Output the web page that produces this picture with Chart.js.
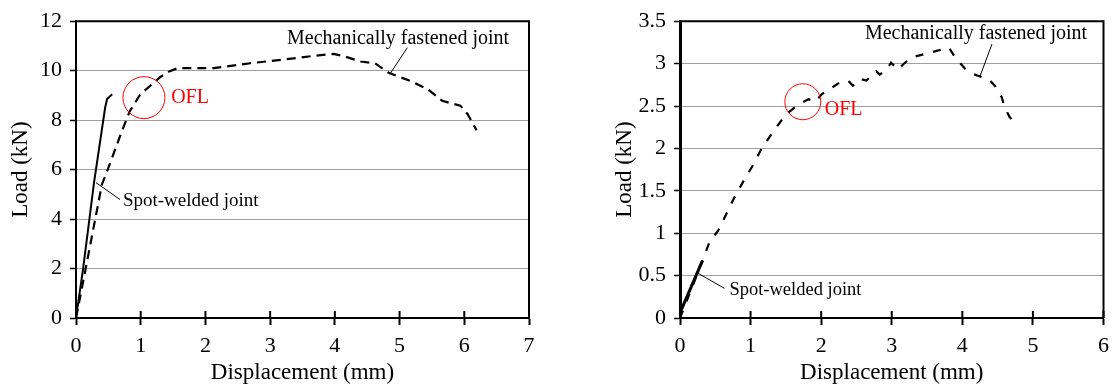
<!DOCTYPE html>
<html>
<head>
<meta charset="utf-8">
<script src="https://cdn.jsdelivr.net/npm/chart.js@4.4.1/dist/chart.umd.min.js"></script>
<style>
  html, body { margin: 0; padding: 0; background: #fff; }
  .box { position: absolute; top: 0; height: 387px; }
  #boxA { left: 0; width: 560px; }
  #boxB { left: 560px; width: 557px; }
</style>
</head>
<body>
<div class="box" id="boxA"><canvas id="chartA" width="560" height="387"></canvas></div>
<div class="box" id="boxB"><canvas id="chartB" width="557" height="387"></canvas></div>
<script>
// ---- data ----
// left panel
const spotDispA = [0, 0.11, 0.28, 0.45, 0.48, 0.56];
const spotLoadA = [0, 2.0, 5.5, 8.5, 8.85, 9.05];
const mechDispA = [0, 0.15, 0.40, 0.49, 0.71, 0.83, 0.99, 1.30, 1.45, 1.57, 1.91, 2.13, 2.69, 3.24, 3.68, 3.98, 4.12, 4.40, 4.62, 4.84, 5.17, 5.44, 5.66, 5.94, 6.05, 6.19];
const mechLoadA = [0, 2.0, 5.4, 6.0, 7.56, 8.36, 9.03, 9.74, 9.98, 10.1, 10.1, 10.1, 10.3, 10.46, 10.6, 10.68, 10.6, 10.37, 10.3, 9.9, 9.58, 9.24, 8.78, 8.58, 8.25, 7.59];
const yTicksA = [0, 2, 4, 6, 8, 10, 12];
const xTicksA = [0, 1, 2, 3, 4, 5, 6, 7];

// right panel
const spotDispB = [0, 0.16, 0.32];
const spotLoadB = [0.06, 0.37, 0.68];
const mechDispB = [0, 0.32, 0.42, 0.54, 0.77, 0.91, 1.04, 1.15, 1.33, 1.50, 1.68, 1.82, 1.92, 2.01, 2.27, 2.38, 2.45, 2.55, 2.64, 2.78, 2.83, 2.93, 2.99, 3.09, 3.16, 3.27, 3.55, 3.81, 3.90, 4.07, 4.21, 4.28, 4.37, 4.46, 4.56, 4.60, 4.67, 4.74];
const mechLoadB = [0, 0.68, 0.90, 1.03, 1.42, 1.63, 1.81, 1.99, 2.21, 2.40, 2.52, 2.58, 2.55, 2.64, 2.78, 2.80, 2.74, 2.82, 2.80, 2.91, 2.87, 2.93, 3.01, 2.93, 2.99, 3.07, 3.13, 3.19, 3.07, 2.91, 2.86, 2.84, 2.82, 2.74, 2.60, 2.48, 2.37, 2.31];
const yTicksB = [0, 0.5, 1, 1.5, 2, 2.5, 3, 3.5];
const xTicksB = [0, 1, 2, 3, 4, 5, 6];

const FONT = "'Liberation Serif', 'Times New Roman', serif";

function pts(xs, ys) { return xs.map((x, i) => ({ x: x, y: ys[i] })); }

// frame, inner tick marks and the text notes
const notesPlugin = {
  id: 'notes',
  afterDraw(chart, args, opts) {
    const { ctx, chartArea: a, scales: { x, y } } = chart;
    ctx.save();
    // box round the plot
    ctx.strokeStyle = '#000';
    ctx.lineWidth = 2;
    ctx.beginPath();
    ctx.moveTo(a.left, a.top); ctx.lineTo(a.right, a.top); ctx.lineTo(a.right, a.bottom);
    ctx.stroke();
    // x ticks reaching into the plot
    x.ticks.forEach(t => {
      const px = x.getPixelForValue(t.value);
      ctx.beginPath(); ctx.moveTo(px, a.bottom); ctx.lineTo(px, a.bottom - 7); ctx.stroke();
    });
    // leader lines
    ctx.lineWidth = 1;
    opts.leaders.forEach(l => {
      ctx.beginPath();
      ctx.moveTo(x.getPixelForValue(l[0]), y.getPixelForValue(l[1]));
      ctx.lineTo(x.getPixelForValue(l[2]), y.getPixelForValue(l[3]));
      ctx.stroke();
    });
    // OFL circle
    ctx.strokeStyle = '#ff0000';
    ctx.beginPath();
    ctx.arc(x.getPixelForValue(opts.circle[0]), y.getPixelForValue(opts.circle[1]), opts.circle[2], 0, Math.PI * 2);
    ctx.stroke();
    // labels
    ctx.textAlign = 'left';
    ctx.textBaseline = 'middle';
    opts.labels.forEach(l => {
      ctx.font = l.size + 'px ' + FONT;
      ctx.fillStyle = l.color || '#000';
      ctx.fillText(l.text, x.getPixelForValue(l.x), y.getPixelForValue(l.y));
    });
    ctx.restore();
  }
};

function makeChart(id, d) {
  return new Chart(document.getElementById(id), {
    type: 'scatter',
    data: {
      datasets: [
        { label: 'Spot-welded joint', data: pts(d.spotX, d.spotY), showLine: true, borderColor: '#000',
          borderWidth: d.spotWidth, pointRadius: 0, tension: 0 },
        { label: 'Mechanically fastened joint', data: pts(d.mechX, d.mechY), showLine: true, borderColor: '#000',
          borderWidth: 2.2, borderDash: d.dash, pointRadius: 0, tension: 0 }
      ]
    },
    options: {
      responsive: false,
      animation: false,
      layout: { padding: d.pad },
      plugins: {
        legend: { display: false },
        tooltip: { enabled: false },
        notes: d.notes
      },
      scales: {
        x: {
          type: 'linear', min: d.xTicks[0], max: d.xTicks[d.xTicks.length - 1],
          afterBuildTicks: s => { s.ticks = d.xTicks.map(v => ({ value: v })); },
          afterFit: s => { s.height = 69; },
          border: { display: true, color: '#000', width: 2 },
          grid: { drawOnChartArea: false, tickLength: 7, tickColor: '#000', tickWidth: 2 },
          ticks: { color: '#000', font: { family: FONT, size: 22 }, padding: 8, maxRotation: 0,
                   callback: v => String(v) },
          title: { display: true, text: 'Displacement (mm)', color: '#000', font: { family: FONT, size: 23 },
                   padding: { top: 0, bottom: 0 } }
        },
        y: {
          type: 'linear', min: d.yTicks[0], max: d.yTicks[d.yTicks.length - 1],
          afterBuildTicks: s => { s.ticks = d.yTicks.map(v => ({ value: v })); },
          afterFit: s => { s.width = d.yWidth; },
          border: { display: true, color: '#000', width: d.yAxisWidth },
          grid: { color: '#a0a0a0', lineWidth: 1, tickLength: 6, tickColor: '#000', tickWidth: 1.5 },
          ticks: { color: '#000', font: { family: FONT, size: 22 }, padding: 8,
                   callback: v => String(v) },
          title: { display: true, text: 'Load (kN)', color: '#000', font: { family: FONT, size: 23 },
                   padding: { top: d.yTitlePad, bottom: 0 } }
        }
      }
    },
    plugins: [notesPlugin]
  });
}

makeChart('chartA', {
  spotX: spotDispA, spotY: spotLoadA, mechX: mechDispA, mechY: mechLoadA,
  xTicks: xTicksA, yTicks: yTicksA,
  spotWidth: 2, dash: [9, 6], yAxisWidth: 2,
  pad: { left: 0, top: 15, right: 31, bottom: 0 }, yWidth: 76, yTitlePad: 7,
  notes: {
    leaders: [[5.12, 10.93, 4.85, 9.86], [0.31, 5.47, 0.68, 4.79]],
    circle: [1.05, 8.91, 21],
    labels: [
      { text: 'Mechanically fastened joint', x: 3.26, y: 11.29, size: 20 },
      { text: 'Spot-welded joint', x: 0.725, y: 4.75, size: 19 },
      { text: 'OFL', x: 1.47, y: 8.91, size: 20, color: '#ff0000' }
    ]
  }
});

makeChart('chartB', {
  spotX: spotDispB, spotY: spotLoadB, mechX: mechDispB, mechY: mechLoadB,
  xTicks: xTicksB, yTicks: yTicksB,
  spotWidth: 3, dash: [8, 10], yAxisWidth: 3,
  pad: { left: 0, top: 20, right: 9, bottom: 0 }, yWidth: 120, yTitlePad: 51,
  notes: {
    leaders: [[4.42, 3.23, 4.25, 2.85], [0.25, 0.53, 0.63, 0.35]],
    circle: [1.74, 2.55, 18],
    labels: [
      { text: 'Mechanically fastened joint', x: 2.62, y: 3.35, size: 20 },
      { text: 'Spot-welded joint', x: 0.70, y: 0.33, size: 18.5 },
      { text: 'OFL', x: 2.05, y: 2.45, size: 20, color: '#ff0000' }
    ]
  }
});
</script>
</body>
</html>
